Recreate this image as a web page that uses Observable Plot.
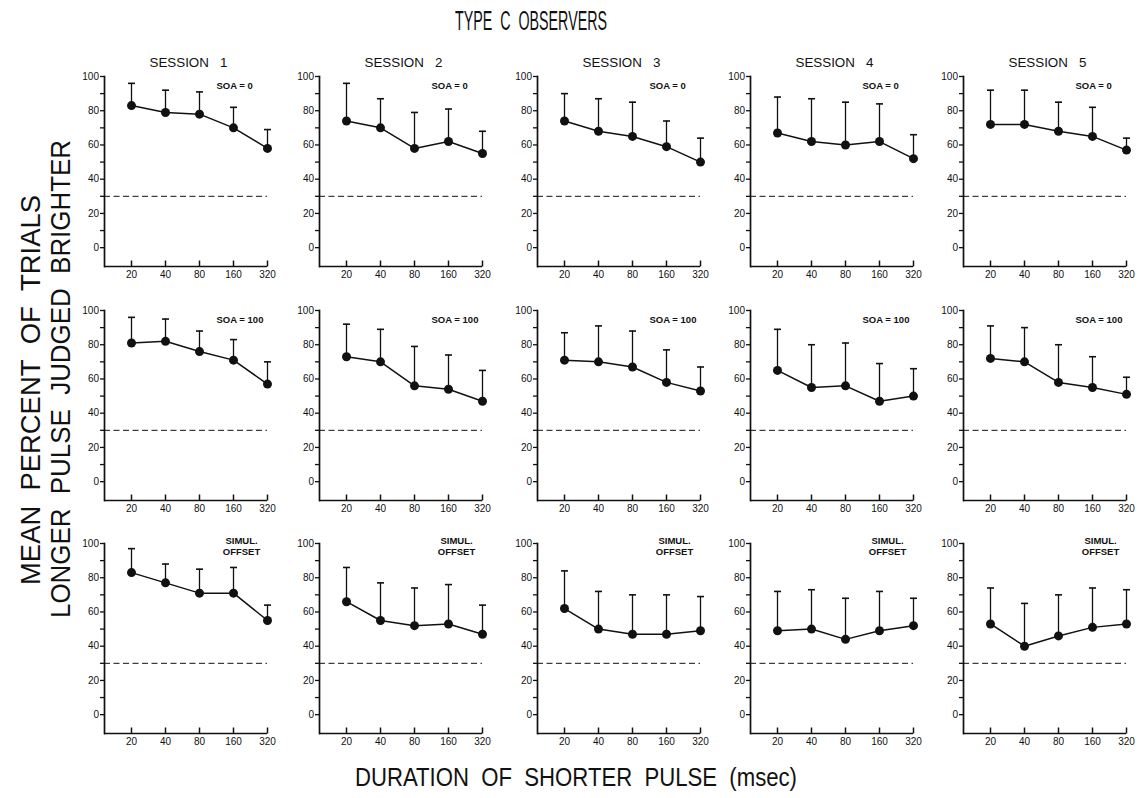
<!DOCTYPE html>
<html><head><meta charset="utf-8">
<script src="https://cdn.jsdelivr.net/npm/d3@7"></script>
<script src="https://cdn.jsdelivr.net/npm/@observablehq/plot@0.6"></script>
<style>
body{margin:0;background:#fff;}
#fig{position:relative;width:1139px;height:798px;overflow:hidden;background:#fff;}
.panel{position:absolute;}
#overlay{position:absolute;left:0;top:0;pointer-events:none;}
</style></head><body><div id="fig"></div>
<script>
// ---------- data ----------
const durations = [20, 40, 80, 160, 320];
const sessionLabels = ["SESSION\u00A0\u00A0\u00A01", "SESSION\u00A0\u00A0\u00A02", "SESSION\u00A0\u00A0\u00A03", "SESSION\u00A0\u00A0\u00A04", "SESSION\u00A0\u00A0\u00A05"];
const conditionLabels = ["SOA = 0", "SOA = 100", "SIMUL.\nOFFSET"];
// mean percent per session (rows: sessions 1..5; cols: durations)
const soa0Mean = [[83,79,78,70,58],[74,70,58,62,55],[74,68,65,59,50],[67,62,60,62,52],[72,72,68,65,57]];
const soa0Upper = [[96,92,91,82,69],[96,87,79,81,68],[90,87,85,74,64],[88,87,85,84,66],[92,92,85,82,64]];
const soa100Mean = [[81,82,76,71,57],[73,70,56,54,47],[71,70,67,58,53],[65,55,56,47,50],[72,70,58,55,51]];
const soa100Upper = [[96,95,88,83,70],[92,89,79,74,65],[87,91,88,77,67],[89,80,81,69,66],[91,90,80,73,61]];
const simulMean = [[83,77,71,71,55],[66,55,52,53,47],[62,50,47,47,49],[49,50,44,49,52],[53,40,46,51,53]];
const simulUpper = [[97,88,85,86,64],[86,77,74,76,64],[84,72,70,70,69],[72,73,68,72,68],[74,65,70,74,73]];
const chanceLevel = [30];
const yMajorTicks = [0, 20, 40, 60, 80, 100];
const yMinorTicks = [10, 30, 50, 70, 90];
const yDomain = [-11, 100];
const titleText = "TYPE C OBSERVERS";
const yLabelLines = ["MEAN PERCENT OF TRIALS", "LONGER PULSE JUDGED BRIGHTER"];
const xLabelText = "DURATION OF SHORTER PULSE (msec)";

// ---------- layout ----------
const colAxisX = [104, 319, 537, 750, 963];
const rowTopY = [76, 310, 543];
const plotW = 163, plotH = 190;
const mL = 34, mR = 16, mT = 12, mB = 24;
const FONT = "'Liberation Sans', Arial, sans-serif";

const meansByCond = [soa0Mean, soa100Mean, simulMean];
const upperByCond = [soa0Upper, soa100Upper, simulUpper];

const capSymbol = {draw(ctx) { ctx.moveTo(-3.5, 0); ctx.lineTo(3.5, 0); }};
const upTickSymbol = {draw(ctx) { ctx.moveTo(0, 0); ctx.lineTo(0, -6); }};

function panel(ci, si) {
  const m = meansByCond[ci][si], u = upperByCond[ci][si];
  const data = durations.map((d, i) => ({duration: d, mean: m[i], upper: u[i]}));
  const isSimul = ci === 2;
  return Plot.plot({
    width: mL + plotW + mR, height: mT + plotH + mB,
    marginLeft: mL, marginRight: mR, marginTop: mT, marginBottom: mB,
    style: {fontFamily: FONT, fontSize: "10px", background: "transparent", overflow: "visible", color: "#111"},
    x: {type: "point", domain: durations, padding: 0.345, align: 1, label: null},
    y: {domain: yDomain, label: null},
    marks: [
      Plot.frame({anchor: "left", strokeWidth: 1.7}),
      Plot.ruleY(yDomain.slice(0, 1), {strokeWidth: 1.7}),
      Plot.ruleY(chanceLevel, {strokeDasharray: "6,3.5", strokeWidth: 1}),
      Plot.axisY(yMajorTicks, {tickSize: 4, tickPadding: 1.5, strokeWidth: 1.3, label: null}),
      Plot.axisY(yMinorTicks, {tickSize: 4, tickFormat: () => "", strokeWidth: 1.3, label: null}),
      Plot.axisX(durations, {tickSize: 0, tickPadding: 4, tickFormat: d => String(d), label: null}),
      Plot.dot(durations, {x: d => d, frameAnchor: "bottom", symbol: upTickSymbol, stroke: "#111", fill: "none", strokeWidth: 1.5}),
      Plot.ruleX(data, {x: "duration", y1: "mean", y2: "upper", strokeWidth: 1.3}),
      Plot.dot(data, {x: "duration", y: "upper", symbol: capSymbol, stroke: "#111", fill: "none", strokeWidth: 1.6}),
      Plot.line(data, {x: "duration", y: "mean", strokeWidth: 1.5, stroke: "#111"}),
      Plot.dot(data, {x: "duration", y: "mean", r: 4.5, fill: "#111", stroke: null}),
      Plot.text([conditionLabels[ci]], {
        frameAnchor: "top-left",
        textAnchor: isSimul ? "middle" : "start",
        lineAnchor: "middle",
        dx: isSimul ? 137 : 112,
        dy: isSimul ? 2.5 : 9.5,
        lineHeight: 1.1,
        fontSize: 9.5,
        fontWeight: 600,
        fill: "#111"
      })
    ]
  });
}

const fig = document.getElementById("fig");
for (let ci = 0; ci < 3; ci++) {
  for (let si = 0; si < 5; si++) {
    const el = panel(ci, si);
    el.classList.add("panel");
    el.style.left = (colAxisX[si] - mL) + "px";
    el.style.top = (rowTopY[ci] - mT) + "px";
    fig.appendChild(el);
  }
}

// ---------- overlay texts ----------
const svg = d3.select(fig).append("svg").attr("id", "overlay")
  .attr("width", 1139).attr("height", 798)
  .style("font-family", FONT).style("fill", "#111");

svg.append("text").text(titleText.replace(/ /g, "\u00A0\u00A0"))
  .attr("x", 455).attr("y", 30).attr("font-size", 27)
  .attr("textLength", 152).attr("lengthAdjust", "spacingAndGlyphs");

sessionLabels.forEach((s, i) => {
  svg.append("text").text(s)
    .attr("x", colAxisX[i] + plotW / 2 + 3).attr("y", 67)
    .attr("text-anchor", "middle").attr("font-size", 13)
    .attr("textLength", 78).attr("lengthAdjust", "spacingAndGlyphs");
});

const yl = [{x: 40, y: 585, len: 390}, {x: 70, y: 618, len: 478}];
yLabelLines.forEach((t, i) => {
  svg.append("text").text(t.replace(/ /g, "\u00A0\u00A0"))
    .attr("transform", `translate(${yl[i].x},${yl[i].y}) rotate(-90)`)
    .attr("font-size", 28)
    .attr("textLength", yl[i].len).attr("lengthAdjust", "spacingAndGlyphs");
});

svg.append("text").text(xLabelText.replace(/ /g, "\u00A0\u00A0"))
  .attr("x", 355).attr("y", 786).attr("font-size", 26)
  .attr("textLength", 442).attr("lengthAdjust", "spacingAndGlyphs");
</script>
</body></html>
